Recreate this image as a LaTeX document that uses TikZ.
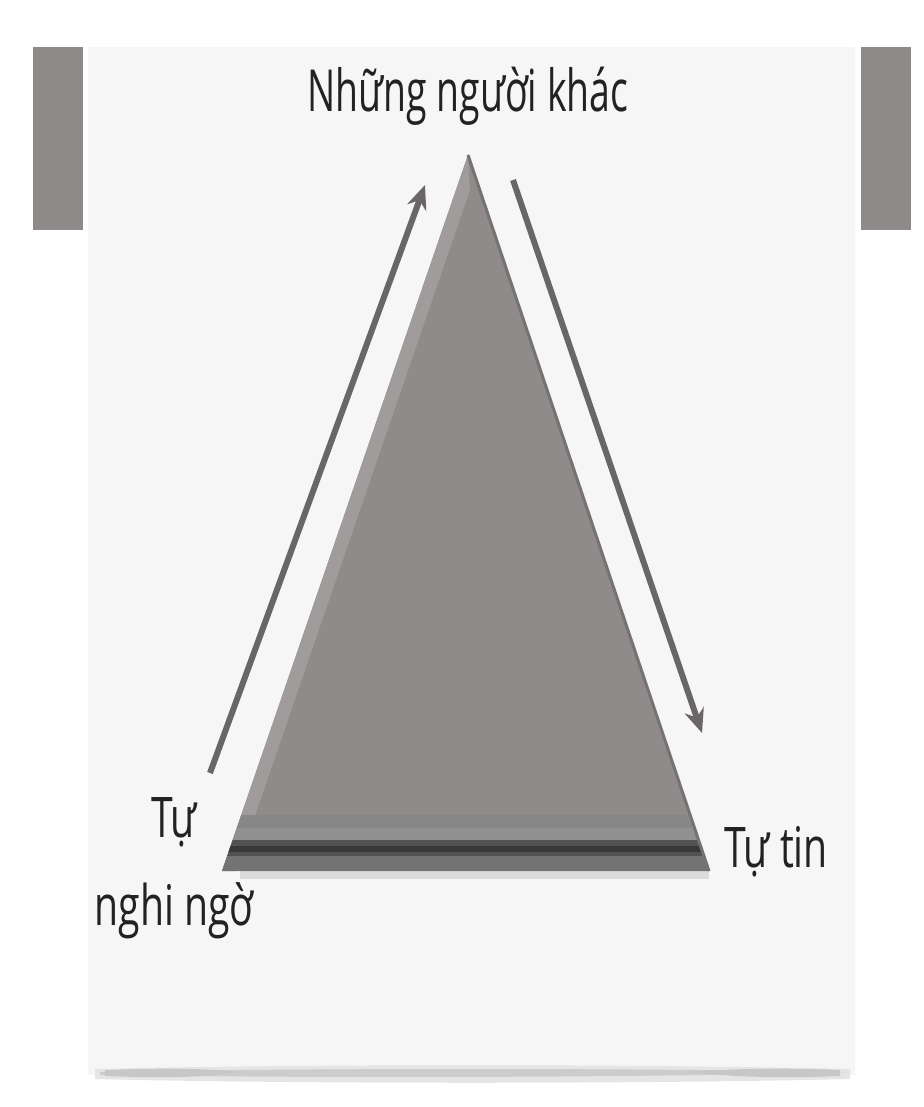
\documentclass[tikz,border=0pt]{standalone}
\usepackage{fontspec}
\setmainfont{Open Sans}
\newfontfamily\lblfont[FakeStretch=0.7]{Open Sans}
\newfontfamily\topfont[FakeStretch=0.645]{Open Sans}
\usetikzlibrary{arrows.meta}
\definecolor{panel}{HTML}{F6F6F6}
\definecolor{bar}{HTML}{8E8A8A}
\definecolor{tri}{HTML}{8F8B8B}
\definecolor{trilight}{HTML}{A09C9C}
\definecolor{triedge}{HTML}{767272}
\definecolor{arrowc}{HTML}{6A6666}
\definecolor{txt}{HTML}{222222}
\tikzset{
  lbl/.style={font=\lblfont\fontsize{28}{30}\selectfont, text=txt, inner sep=0pt, align=center},
  toplbl/.style={lbl, font=\topfont\fontsize{29}{30}\selectfont},
  flow/.style={draw=arrowc, line width=3pt, -{Stealth[length=12pt,width=10pt]}},
  sidebar/.style={fill=bar, draw=none}
}
\begin{document}
\begin{tikzpicture}[x=0.5pt,y=-0.5pt]
\useasboundingbox (0,0) rectangle (924,1107);
\fill[white] (0,0) rectangle (924,1107);
% panel
\fill[panel] (88,47) rectangle (855,1075);
% bottom shadow (page curl)
\fill[black!10] (95,1069) .. controls (300,1064) and (640,1064) .. (850,1069) -- (850,1079) .. controls (640,1084) and (300,1084) .. (95,1079) -- cycle;
\fill[black!20] (100,1072) .. controls (300,1068) and (640,1068) .. (845,1072) .. controls (640,1078) and (300,1078) .. (100,1075) -- cycle;
\fill[black!22] (105,1070) .. controls (160,1068) and (200,1068) .. (240,1072) .. controls (200,1078) and (160,1078) .. (105,1076) -- cycle;
\fill[black!22] (690,1072) .. controls (740,1068) and (790,1068) .. (840,1070) -- (840,1076) .. controls (790,1078) and (740,1078) .. (690,1072) -- cycle;
% side bars
\fill[sidebar] (33,47) rectangle (83,230);
\fill[sidebar] (861,47) rectangle (911,230);
% triangle
\coordinate (apex) at (468,155);
\coordinate (bl) at (222,871);
\coordinate (br) at (709,871);
\fill[black!14] (240,871) rectangle (709,879);
\fill[tri] (apex) -- (bl) -- (br) -- cycle;
\begin{scope}
\clip (apex) -- (bl) -- (br) -- cycle;
\fill[trilight] (apex) -- (bl) -- (236,871) -- (470,190) -- cycle;
\fill[black!47] (150,815) rectangle (800,828);
\fill[black!43] (150,828) rectangle (800,840);
\fill[black!68] (150,840) rectangle (800,856);
\fill[black!78] (150,846) rectangle (800,852);
\fill[black!55] (150,856) rectangle (800,871);
\end{scope}
\draw[triedge, line width=1.5pt] (apex) -- (br);
% arrows
\coordinate (la) at (210,773);
\coordinate (lb) at (425,185);
\coordinate (ra) at (513,180);
\coordinate (rb) at (702,733);
\draw[flow] (la) -- (lb);
\draw[flow] (ra) -- (rb);
% labels
\node[toplbl] (top) at (468,96) {Những người khác};
\node[lbl] (self) at (174,868) {Tự\\[14pt]nghi ngờ};
\node[lbl] (conf) at (776,852) {Tự tin};
\end{tikzpicture}
\end{document}
